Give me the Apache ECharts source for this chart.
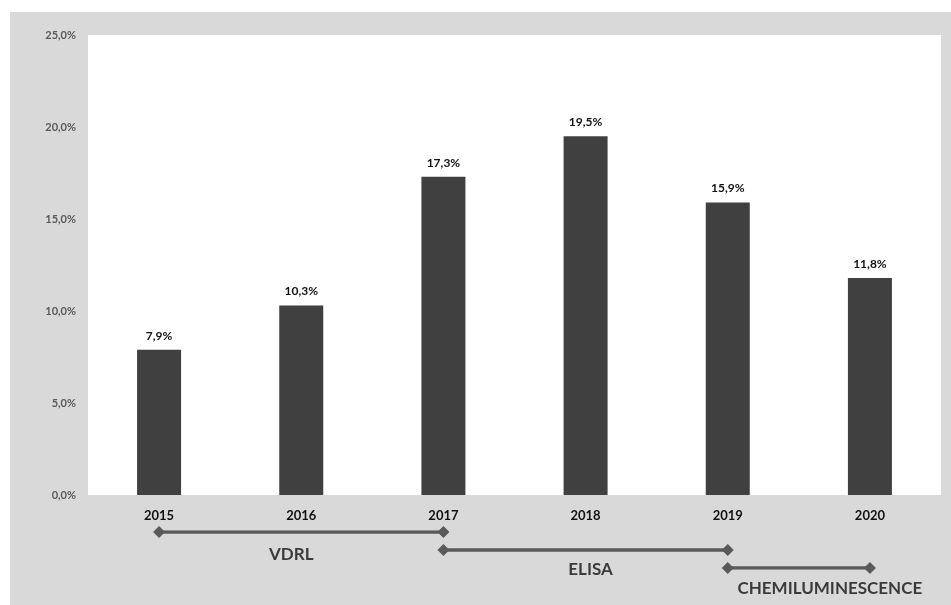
<!DOCTYPE html>
<html>
<head>
<meta charset="utf-8">
<script src="https://cdn.jsdelivr.net/npm/echarts@6/dist/echarts.min.js"></script>
<style>
  html, body { margin: 0; padding: 0; background: #ffffff; }
  #chart { width: 951px; height: 605px; }
</style>
</head>
<body>
<div id="chart"></div>
<script>
// Years on the category axis
const years = ['2015', '2016', '2017', '2018', '2019', '2020'];
// Positivity rate per year (%)
const rates = [7.9, 10.3, 17.3, 19.5, 15.9, 11.8];
// Y axis ticks (%)
const yTicks = [0, 5, 10, 15, 20, 25];

// Testing methods used over time: name, first year index, last year index, row
const methodNames = ['VDRL', 'ELISA', 'CHEMILUMINESCENCE'];
const methodStart = [0, 2, 4];
const methodEnd = [2, 4, 5];
const methodRow = [0, 1, 2];

const fontFamily = 'Lato, "Open Sans", "Liberation Sans", sans-serif';
const fmt = v => v.toFixed(1).replace('.', ',') + '%';

const chart = echarts.init(document.getElementById('chart'), null, { renderer: 'canvas' });

// label nudges for the method names, below each span
const labelOffsets = [[-10, 4], [5, 1], [31, 2]];

const methodSeries = methodNames.map((name, i) => ({
  type: 'line',
  name: name,
  xAxisIndex: 1,
  yAxisIndex: 1,
  symbol: 'diamond',
  symbolSize: 12,
  lineStyle: { color: '#5a5a5a', width: 3.5 },
  itemStyle: { color: '#5a5a5a' },
  data: [[methodStart[i], methodRow[i]], [methodEnd[i], methodRow[i]]],
  silent: true,
  z: 3
}));

const methodLabels = {
  type: 'scatter',
  xAxisIndex: 1,
  yAxisIndex: 1,
  symbolSize: 0,
  silent: true,
  data: methodNames.map((name, i) => ({
    value: [(methodStart[i] + methodEnd[i]) / 2, methodRow[i]],
    label: {
      show: true,
      position: 'bottom',
      distance: 10,
      offset: labelOffsets[i],
      formatter: name,
      color: '#111111',
      fontFamily: fontFamily,
      fontWeight: 'bold',
      fontSize: 17
    }
  }))
};

chart.setOption({
  animation: false,
  backgroundColor: '#ffffff',
  graphic: [{
    type: 'rect',
    shape: { x: 10, y: 12, width: 941, height: 593 },
    style: { fill: '#d9d9d9' },
    z: -10
  }],
  grid: [
    { left: 88, right: 10, top: 35, bottom: 110, show: true, backgroundColor: '#ffffff', borderWidth: 0 },
    { left: 88, right: 10, top: 532, height: 36 }
  ],
  xAxis: [
    {
      type: 'category',
      data: years,
      gridIndex: 0,
      axisLine: { show: false },
      axisTick: { show: false },
      axisLabel: {
        color: '#111111',
        fontFamily: fontFamily,
        fontWeight: 'bold',
        fontSize: 13,
        margin: 14
      }
    },
    {
      type: 'value',
      gridIndex: 1,
      min: -0.5,
      max: 5.5,
      show: false
    }
  ],
  yAxis: [
    {
      type: 'value',
      gridIndex: 0,
      min: 0,
      max: 25,
      interval: 5,
      axisLine: { show: false },
      axisTick: { show: false },
      splitLine: { show: false },
      axisLabel: {
        color: '#595959',
        fontFamily: fontFamily,
        fontWeight: 'bold',
        fontSize: 11,
        margin: 12,
        formatter: v => yTicks.includes(v) ? fmt(v) : ''
      }
    },
    {
      type: 'value',
      gridIndex: 1,
      min: 0,
      max: 2,
      inverse: true,
      show: false
    }
  ],
  series: [
    {
      type: 'bar',
      data: rates,
      barWidth: 44,
      itemStyle: { color: '#404040' },
      label: {
        show: true,
        position: 'top',
        distance: 8,
        color: '#111111',
        fontFamily: fontFamily,
        fontWeight: 'bold',
        fontSize: 12,
        formatter: p => fmt(p.value)
      },
      silent: true
    },
    ...methodSeries,
    methodLabels
  ]
});
</script>
</body>
</html>
